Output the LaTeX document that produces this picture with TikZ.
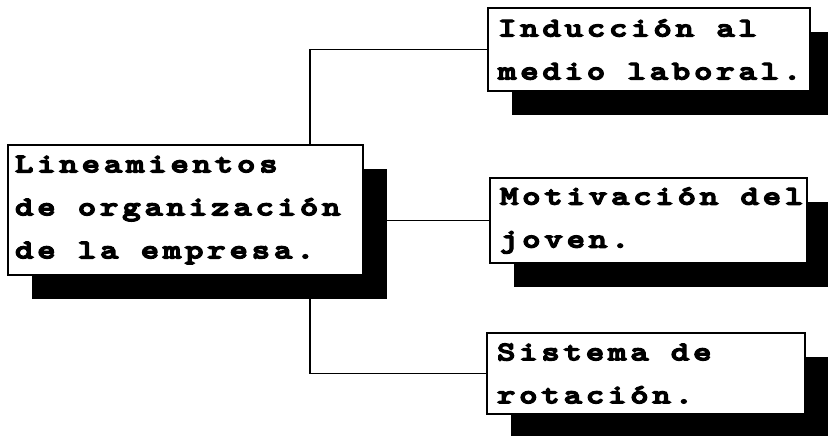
\documentclass[tikz,border=0pt]{standalone}
\usepackage{fontspec}
\newfontfamily\rubrofont[Extension=.otf, LetterSpace=14, FakeStretch=1.3, FakeBold=5]{lmmonolt10-bold}
\newcommand\hueco{\kern22.2pt\relax}
\usetikzlibrary{shadows}
\pgfdeclarelayer{background}
\pgfsetlayers{background,main}

\begin{document}
\begin{tikzpicture}[x=1pt, y=-1pt,
	rubro/.style={draw, line width=2pt, fill=white, align=left, inner xsep=10pt, inner ysep=0pt,
		font={\rubrofont\fontsize{27}{43}\selectfont},
		drop shadow={shadow xshift=24pt, shadow yshift=-24pt, fill=black, opacity=1}},
	enlace/.style={line width=1.3pt}]

	\useasboundingbox (0,0) rectangle (828,436);

	\node[rubro, inner xsep=7pt, text width=341pt, minimum height=130pt] (main) at (185.5,210)
		{Lineamientos\\de\hueco organización\\de\hueco la\hueco empresa.};
	\node[rubro, text width=302pt, minimum height=83pt] (ind) at (649,49.5)
		{Inducción\hueco al\\medio\hueco laboral.};
	\node[rubro, text width=297pt, minimum height=85pt] (mot) at (648.5,220.5)
		{Motivación\hueco del\\joven.};
	\node[rubro, text width=298pt, minimum height=81pt] (sis) at (646,373.5)
		{Sistema\hueco de\\rotación.};

	\coordinate (tronco) at (310,0);
	\begin{pgfonlayer}{background}
		\draw[enlace] (ind.west) -| (tronco |- sis.west) -- (sis.west);
		\draw[enlace] (main.east |- mot.west) -- (mot.west);
	\end{pgfonlayer}
\end{tikzpicture}
\end{document}
